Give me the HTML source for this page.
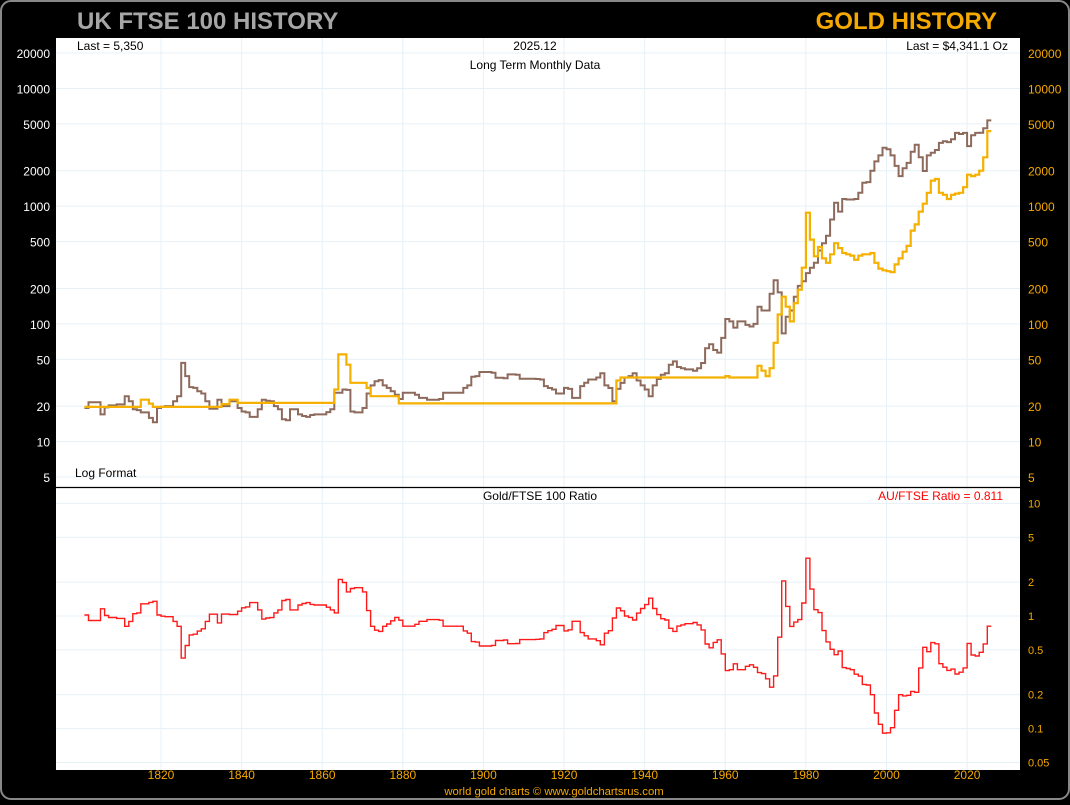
<!DOCTYPE html>
<html><head><meta charset="utf-8">
<style>
html,body{margin:0;padding:0;background:#000;}
body{width:1070px;height:800px;overflow:hidden;font-family:"Liberation Sans",sans-serif;}
</style></head>
<body>
<svg id="chart" width="1070" height="800" xmlns="http://www.w3.org/2000/svg" font-family="Liberation Sans, sans-serif">
<rect x="1" y="1" width="1068" height="798" rx="10" fill="#000" stroke="#888" stroke-width="2"/>
<text x="77" y="29" font-size="24" font-weight="bold" fill="#a6a6a6">UK FTSE 100 HISTORY</text>
<text x="997" y="29" font-size="24" font-weight="bold" fill="#f5a800" text-anchor="end">GOLD HISTORY</text>
<rect x="56" y="38" width="964" height="449" fill="#fff"/>
<rect x="56" y="488" width="964" height="282" fill="#fff"/>
<g id="grid"></g>
<g id="series"></g>
<line x1="56" y1="487.5" x2="1020" y2="487.5" stroke="#000" stroke-width="1.2"/>
<text x="77" y="50" font-size="12" fill="#000">Last = 5,350</text>
<text x="535" y="50" font-size="12" fill="#000" text-anchor="middle">2025.12</text>
<text x="535" y="69" font-size="12" fill="#000" text-anchor="middle">Long Term Monthly Data</text>
<text x="1008" y="50" font-size="12" fill="#000" text-anchor="end">Last = $4,341.1 Oz</text>
<text x="75" y="477" font-size="12" fill="#000">Log Format</text>
<text x="540" y="500" font-size="12" fill="#000" text-anchor="middle">Gold/FTSE 100 Ratio</text>
<text x="1003" y="500" font-size="12" fill="#f00" text-anchor="end">AU/FTSE Ratio = 0.811</text>
<text x="554" y="795" font-size="11.3" fill="#f5a800" text-anchor="middle">world gold charts © www.goldchartsrus.com</text>
</svg>
<script>
const years = [];
for (let y = 1801; y <= 2025; y++) years.push(y);
const ftse = [
19.3,21.6,21.6,21.6,17.0,19.5,20.3,20.3,20.7,20.7,24.3,22,18.8,18.5,17.7,17.7,15.9,14.6,19.3,19.8,
20,20,22,24.3,46.6,36,29,28.6,26.8,25.6,22,19,19,22.7,20,20,22,22,19.3,18,
17.7,16.2,16.2,18.8,22.7,22.2,22,20,18.8,15.5,15.2,18.8,18.8,17,16.5,16.2,16.8,17,17,17,
17.8,18.8,26,26,27.7,27.5,18,17.7,17.7,19.3,25.6,30,32.5,33.3,30,28.6,26.8,25,23,26,
26,26,25,23.5,23.5,22.7,22.7,22.7,23,26,26,26,26,26,28.6,30,35.6,36,39,39,
39,38.5,34.8,34.8,34.5,37.2,37.2,37,34.2,34.2,34.2,34.2,34,33.7,29.6,28.5,27.7,25.6,25.6,28.6,
28,23.5,23.5,29.6,31.6,33.7,33.7,35,38,30,28.5,22,28,31.5,35,36,38,33,30,27.7,
24.3,30,34,37,38,45,48,43,42,41,41,40,42,46.5,62,67,60,57,76,110,
105,93,105,105,98,95,100,140,130,130,180,235,185,83,115,130,170,210,230,270,
300,330,420,485,560,770,1070,900,1150,1140,1140,1150,1300,1580,1600,2000,2400,2700,3130,3050,
2700,2200,1800,2100,2330,2900,3330,2600,1990,2700,2840,3000,3450,3560,3500,3700,4190,4100,4190,3240,
4000,4190,4200,4600,5350];
const gold = [
19.7,19.7,19.7,19.7,19.7,19.7,19.7,19.7,19.7,19.7,19.7,19.7,19.7,19.7,22.7,22.7,21,19.7,19.7,19.7,
19.7,19.7,19.7,19.7,19.7,19.7,19.7,19.7,19.7,19.7,19.7,19.7,19.7,19.7,20.8,20.8,22.7,22.7,21.3,21.3,
21.3,21.3,21.3,21.3,21.3,21.3,21.3,21.3,21.3,21.3,21.3,21.3,21.3,21.3,21.3,21.3,21.3,21.3,21.3,21.3,
21.3,21.3,27.7,55,55,45,31.6,31.6,31.6,31.6,28.6,24.3,24.3,24.3,24.3,24.3,24.3,24.3,21.1,21.1,
21.1,21.1,21.1,21.1,21.1,21.1,21.1,21.1,21.1,21.1,21.1,21.1,21.1,21.1,21.1,21.1,21.1,21.1,21.1,21.1,
21.1,21.1,21.1,21.1,21.1,21.1,21.1,21.1,21.1,21.1,21.1,21.1,21.1,21.1,21.1,21.1,21.1,21.1,21.1,21.1,
21.1,21.1,21.1,21.1,21.1,21.1,21.1,21.1,21.1,21.1,21.1,21.1,33,35,35,35,35,35,35,35,
35,35,35,35,35,35,35,35,35,35,35,35,35,35,35,35,35,35,35,36,
35,35,35,35,35,35,35,44,40,36,42,69,120,170,140,105,150,195,300,880,
520,375,450,360,330,390,485,440,400,390,380,350,380,390,390,400,330,295,285,280,
275,320,360,410,460,620,700,900,1050,1300,1650,1700,1300,1250,1150,1250,1280,1300,1450,1850,
1800,1850,2000,2600,4341];
const topTicks = [5,10,20,50,100,200,500,1000,2000,5000,10000,20000];
const ratioTicks = [0.05,0.1,0.2,0.5,1,2,5,10];
const xTicks = [1820,1840,1860,1880,1900,1920,1940,1960,1980,2000,2020];

const NS = 'http://www.w3.org/2000/svg';
const xs = yr => 161 + (yr - 1820) * 4.0305;
const yTop = v => 477 - (Math.log10(v) - Math.log10(5)) * 117.7;
const yRat = r => 616 - Math.log10(r) * 112.6;
function mk(tag, attrs, parent, txt) {
  const e = document.createElementNS(NS, tag);
  for (const k in attrs) e.setAttribute(k, attrs[k]);
  if (txt !== undefined) e.textContent = txt;
  parent.appendChild(e);
  return e;
}
const grid = document.getElementById('grid');
const svg = document.getElementById('chart');
const series = document.getElementById('series');
const gc = '#e6f1f7';
topTicks.forEach(t => {
  const y = yTop(t);
  const l = mk('line', {x1:56, x2:1020, y1:y, y2:y, stroke:gc, 'stroke-width':1}, grid);
  
  
  const a = mk('text', {x:50, y:y+5, 'font-size':12, fill:'#fff', 'text-anchor':'end'}, svg, String(t));
  
  
  const b = mk('text', {x:1028, y:y+5, 'font-size':12, fill:'#f5a800'}, svg, String(t));
  
  
});
ratioTicks.forEach(t => {
  const y = yRat(t);
  const l = mk('line', {x1:56, x2:1020, y1:y, y2:y, stroke:gc, 'stroke-width':1}, grid);
  
  
  const b = mk('text', {x:1028, y:y+4, 'font-size':11, fill:'#f5a800'}, svg, String(t));
  
  
});
xTicks.forEach(t => {
  const x = xs(t);
  const l = mk('line', {x1:x, x2:x, y1:38, y2:770, stroke:gc, 'stroke-width':1}, grid);
  
  
  const a = mk('text', {x:x, y:779, 'font-size':12, fill:'#f5a800', 'text-anchor':'middle'}, svg, String(t));
  
  
});
function stepPath(vals, yf) {
  let d = '';
  vals.forEach((v, i) => {
    const x0 = xs(years[i]), x1 = xs(years[i] + 1), y = yf(v);
    d += (i === 0 ? 'M' : 'L') + x0.toFixed(1) + ',' + y.toFixed(1) + 'L' + x1.toFixed(1) + ',' + y.toFixed(1);
  });
  return d;
}
const ratio = gold.map((g, i) => g / ftse[i]);
const pf = mk('path', {d: stepPath(ftse, yTop), fill:'none', stroke:'#7a5040', 'stroke-opacity':0.85, 'stroke-width':2}, series);


const pg = mk('path', {d: stepPath(gold, yTop), fill:'none', stroke:'#f5b000', 'stroke-width':2.2}, series);


const pr = mk('path', {d: stepPath(ratio, yRat), fill:'none', stroke:'#ff1a1a', 'stroke-width':1.4}, series);


</script>
</body></html>
